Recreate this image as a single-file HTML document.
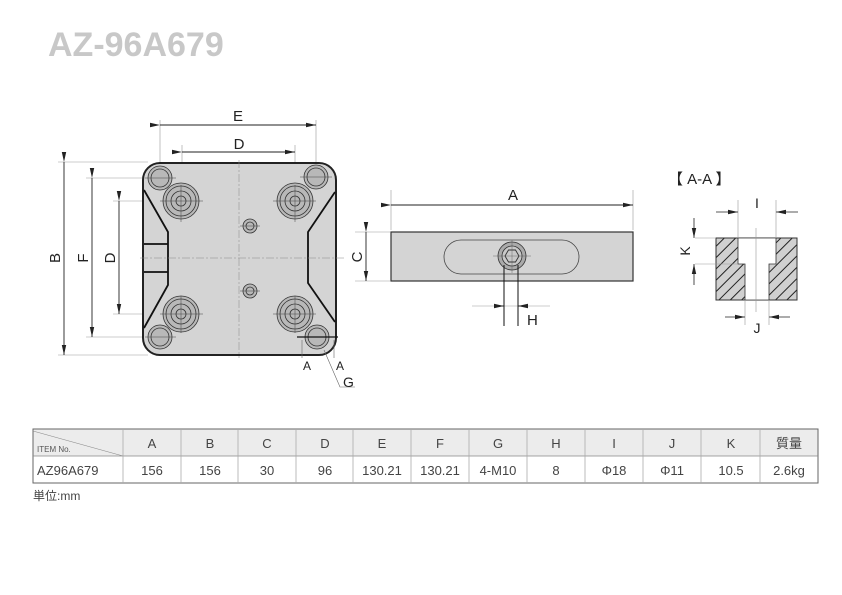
<!DOCTYPE html>
<html><head><meta charset="utf-8"><style>
html,body{margin:0;padding:0;background:#fff;}
svg{display:block;font-family:"Liberation Sans","Noto Sans CJK JP",sans-serif;}
</style></head><body>
<svg width="842" height="595" viewBox="0 0 842 595" xmlns="http://www.w3.org/2000/svg">
<defs>
<marker id="ar" markerWidth="10" markerHeight="6" refX="10" refY="3" orient="auto" markerUnits="userSpaceOnUse"><path d="M0,0.8 L10,3 L0,5.2Z" fill="#222"/></marker>
<pattern id="hatch" width="8" height="8" patternUnits="userSpaceOnUse" patternTransform="rotate(45)"><rect width="8" height="8" fill="#d0d0d0"/><line x1="0" y1="0" x2="0" y2="8" stroke="#222" stroke-width="2"/></pattern>
</defs>
<text x="48" y="56" font-size="34" font-weight="bold" fill="#c8c8c8">AZ-96A679</text>

<!-- Plate top view -->
<g stroke="#999" stroke-width="0.6">
<line x1="148" y1="162" x2="58" y2="162"/><line x1="148" y1="355" x2="58" y2="355"/>
<line x1="159" y1="178" x2="86" y2="178"/><line x1="159" y1="337" x2="86" y2="337"/>
<line x1="181" y1="201" x2="113" y2="201"/><line x1="181" y1="314" x2="113" y2="314"/>
<line x1="160" y1="120" x2="160" y2="175"/><line x1="316" y1="120" x2="316" y2="175"/>
<line x1="182" y1="145" x2="182" y2="215"/><line x1="295" y1="145" x2="295" y2="215"/>
</g>
<g stroke="#222" stroke-width="0.9" fill="none">
<line x1="160" y1="125" x2="316" y2="125" marker-start="url(#ar)" marker-end="url(#ar)"/>
<line x1="182" y1="152" x2="295" y2="152" marker-start="url(#ar)" marker-end="url(#ar)"/>
<line x1="64" y1="162" x2="64" y2="355" marker-start="url(#ar)" marker-end="url(#ar)"/>
<line x1="92" y1="178" x2="92" y2="337" marker-start="url(#ar)" marker-end="url(#ar)"/>
<line x1="119" y1="201" x2="119" y2="314" marker-start="url(#ar)" marker-end="url(#ar)"/>
</g>
<g font-size="15" fill="#222" text-anchor="middle">
<text x="238" y="121">E</text><text x="239" y="149">D</text>
<text transform="translate(60,258) rotate(-90)">B</text>
<text transform="translate(88,258) rotate(-90)">F</text>
<text transform="translate(115,258) rotate(-90)">D</text>
</g>
<rect x="143" y="163" width="193" height="192" rx="17" fill="#d4d4d4" stroke="#222" stroke-width="2"/>
<g stroke="#111" stroke-width="1.8" fill="none">
<polyline points="144,190 168,232 168,285 144,328"/>
<polyline points="335,192 308,232 308,283 335,322"/>
<line x1="144" y1="244" x2="168" y2="244"/><line x1="144" y1="272" x2="168" y2="272"/>
</g>
<g stroke="#888" stroke-width="0.5" stroke-dasharray="8,2,2,2">
<line x1="239" y1="160" x2="239" y2="358"/><line x1="140" y1="258" x2="345" y2="258"/>
</g>
<g fill="#b8b8b8" stroke="#333" stroke-width="0.8">
<circle cx="181" cy="201" r="18"/><circle cx="181" cy="201" r="15" fill="none"/><circle cx="181" cy="201" r="10" fill="none"/><circle cx="181" cy="201" r="5" fill="none"/>
<circle cx="295" cy="201" r="18"/><circle cx="295" cy="201" r="15" fill="none"/><circle cx="295" cy="201" r="10" fill="none"/><circle cx="295" cy="201" r="5" fill="none"/>
<circle cx="181" cy="314" r="18"/><circle cx="181" cy="314" r="15" fill="none"/><circle cx="181" cy="314" r="10" fill="none"/><circle cx="181" cy="314" r="5" fill="none"/>
<circle cx="295" cy="314" r="18"/><circle cx="295" cy="314" r="15" fill="none"/><circle cx="295" cy="314" r="10" fill="none"/><circle cx="295" cy="314" r="5" fill="none"/>
<circle cx="160" cy="178" r="12"/><circle cx="160" cy="178" r="9" fill="none"/>
<circle cx="316" cy="177" r="12"/><circle cx="316" cy="177" r="9" fill="none"/>
<circle cx="160" cy="337" r="12"/><circle cx="160" cy="337" r="9" fill="none"/>
<circle cx="317" cy="337" r="12"/><circle cx="317" cy="337" r="9" fill="none"/>
<circle cx="250" cy="226" r="7"/><circle cx="250" cy="226" r="4" fill="none"/>
<circle cx="250" cy="291" r="7"/><circle cx="250" cy="291" r="4" fill="none"/>
</g>
<g stroke="#444" stroke-width="0.5">
<line x1="160" y1="201" x2="203" y2="201"/><line x1="181" y1="185" x2="181" y2="222"/>
<line x1="273" y1="201" x2="316" y2="201"/><line x1="295" y1="185" x2="295" y2="222"/>
<line x1="160" y1="314" x2="203" y2="314"/><line x1="181" y1="296" x2="181" y2="333"/>
<line x1="273" y1="314" x2="316" y2="314"/><line x1="295" y1="296" x2="295" y2="333"/>
<line x1="145" y1="178" x2="176" y2="178"/><line x1="300" y1="177" x2="332" y2="177"/>
<line x1="145" y1="337" x2="176" y2="337"/>
<line x1="240" y1="226" x2="260" y2="226"/><line x1="240" y1="291" x2="260" y2="291"/>
</g>
<line x1="297" y1="337" x2="338" y2="337" stroke="#111" stroke-width="1.2"/>
<g stroke="#666" stroke-width="0.6" fill="none">
<line x1="302" y1="340" x2="302" y2="358"/><line x1="334" y1="340" x2="334" y2="358"/>
<polyline points="324,350 340,387 355,387"/>
</g>
<g font-size="12" fill="#222"><text x="303" y="370">A</text><text x="336" y="370">A</text></g>
<text x="343" y="387" font-size="14" fill="#222">G</text>

<!-- side view -->
<g stroke="#999" stroke-width="0.6">
<line x1="391" y1="190" x2="391" y2="230"/><line x1="633" y1="190" x2="633" y2="230"/>
<line x1="355" y1="232" x2="390" y2="232"/><line x1="355" y1="281" x2="390" y2="281"/>
<line x1="472" y1="306" x2="550" y2="306"/>
</g>
<line x1="391" y1="205" x2="633" y2="205" stroke="#222" stroke-width="0.9" marker-start="url(#ar)" marker-end="url(#ar)"/>
<line x1="366" y1="232" x2="366" y2="281" stroke="#222" stroke-width="0.9" marker-start="url(#ar)" marker-end="url(#ar)"/>
<text x="513" y="200" font-size="15" text-anchor="middle" fill="#222">A</text>
<text transform="translate(362,257) rotate(-90)" font-size="15" text-anchor="middle" fill="#222">C</text>
<rect x="391" y="232" width="242" height="49" fill="#d4d4d4" stroke="#333" stroke-width="1.2"/>
<rect x="444" y="240" width="135" height="34" rx="17" fill="none" stroke="#444" stroke-width="0.8"/>
<circle cx="512" cy="256" r="14" fill="#aaa" stroke="#333" stroke-width="0.8"/>
<circle cx="512" cy="256" r="10" fill="#c8c8c8" stroke="#333" stroke-width="0.8"/>
<polygon points="519,256 515.5,262 508.5,262 505,256 508.5,250 515.5,250" fill="none" stroke="#333" stroke-width="0.9"/>
<line x1="493" y1="256" x2="531" y2="256" stroke="#555" stroke-width="0.4"/>
<line x1="512" y1="240" x2="512" y2="273" stroke="#555" stroke-width="0.4"/>
<g stroke="#111" stroke-width="1"><line x1="504" y1="265" x2="504" y2="326"/><line x1="518" y1="265" x2="518" y2="326"/></g>
<line x1="495" y1="306" x2="504" y2="306" stroke="#222" marker-end="url(#ar)"/>
<line x1="528" y1="306" x2="518" y2="306" stroke="#222" marker-end="url(#ar)"/>
<text x="527" y="325" font-size="15" fill="#222">H</text>

<!-- section A-A -->
<text x="668" y="184" font-size="15" fill="#222">【 A-A 】</text>
<rect x="716" y="238" width="81" height="62" fill="url(#hatch)" stroke="#333" stroke-width="1"/>
<path d="M738,238 H776 V264 H769 V300 H745 V264 H738Z" fill="#fff" stroke="#333" stroke-width="0.8"/>
<g stroke="#999" stroke-width="0.6">
<line x1="738" y1="200" x2="738" y2="238"/><line x1="776" y1="200" x2="776" y2="238"/>
<line x1="695" y1="238" x2="716" y2="238"/><line x1="695" y1="264" x2="738" y2="264"/>
<line x1="745" y1="300" x2="745" y2="325"/><line x1="769" y1="300" x2="769" y2="325"/>
<line x1="756" y1="228" x2="756" y2="312"/>
</g>
<line x1="716" y1="212" x2="738" y2="212" stroke="#222" stroke-width="0.8" marker-end="url(#ar)"/>
<line x1="798" y1="212" x2="776" y2="212" stroke="#222" stroke-width="0.8" marker-end="url(#ar)"/>
<line x1="725" y1="317" x2="745" y2="317" stroke="#222" stroke-width="0.8" marker-end="url(#ar)"/>
<line x1="790" y1="317" x2="769" y2="317" stroke="#222" stroke-width="0.8" marker-end="url(#ar)"/>
<line x1="694" y1="218" x2="694" y2="238" stroke="#222" stroke-width="0.8" marker-end="url(#ar)"/>
<line x1="694" y1="285" x2="694" y2="264" stroke="#222" stroke-width="0.8" marker-end="url(#ar)"/>
<text x="757" y="208" font-size="14" text-anchor="middle" fill="#222">I</text>
<text x="757" y="333" font-size="14" text-anchor="middle" fill="#222">J</text>
<text transform="translate(690,251) rotate(-90)" font-size="14" text-anchor="middle" fill="#222">K</text>

<!-- table -->
<rect x="33" y="429" width="785" height="27" fill="#ececec"/>
<rect x="33" y="429" width="785" height="54" fill="none" stroke="#666" stroke-width="1"/>
<line x1="33" y1="456" x2="818" y2="456" stroke="#888" stroke-width="0.8"/>
<line x1="33" y1="431" x2="123" y2="456" stroke="#888" stroke-width="0.6"/>
<g stroke="#aaa" stroke-width="0.8">
<line x1="123" y1="429" x2="123" y2="483"/><line x1="181" y1="429" x2="181" y2="483"/><line x1="238" y1="429" x2="238" y2="483"/><line x1="296" y1="429" x2="296" y2="483"/><line x1="353" y1="429" x2="353" y2="483"/><line x1="411" y1="429" x2="411" y2="483"/><line x1="469" y1="429" x2="469" y2="483"/><line x1="527" y1="429" x2="527" y2="483"/><line x1="585" y1="429" x2="585" y2="483"/><line x1="643" y1="429" x2="643" y2="483"/><line x1="701" y1="429" x2="701" y2="483"/><line x1="760" y1="429" x2="760" y2="483"/>
</g>
<text x="37" y="452" font-size="8" fill="#555">ITEM No.</text>
<g font-size="13" fill="#444" text-anchor="middle">
<text x="152" y="448">A</text><text x="210" y="448">B</text><text x="267" y="448">C</text><text x="325" y="448">D</text><text x="382" y="448">E</text><text x="440" y="448">F</text><text x="498" y="448">G</text><text x="556" y="448">H</text><text x="614" y="448">I</text><text x="672" y="448">J</text><text x="731" y="448">K</text><text x="789" y="448">質量</text>
<text x="152" y="475">156</text><text x="210" y="475">156</text><text x="267" y="475">30</text><text x="325" y="475">96</text><text x="382" y="475">130.21</text><text x="440" y="475">130.21</text><text x="498" y="475">4-M10</text><text x="556" y="475">8</text><text x="614" y="475">Φ18</text><text x="672" y="475">Φ11</text><text x="731" y="475">10.5</text><text x="789" y="475">2.6kg</text>
</g>
<text x="37" y="475" font-size="13" fill="#444">AZ96A679</text>
<text x="33" y="500" font-size="12" fill="#444">単位:mm</text>
</svg>
</body></html>
